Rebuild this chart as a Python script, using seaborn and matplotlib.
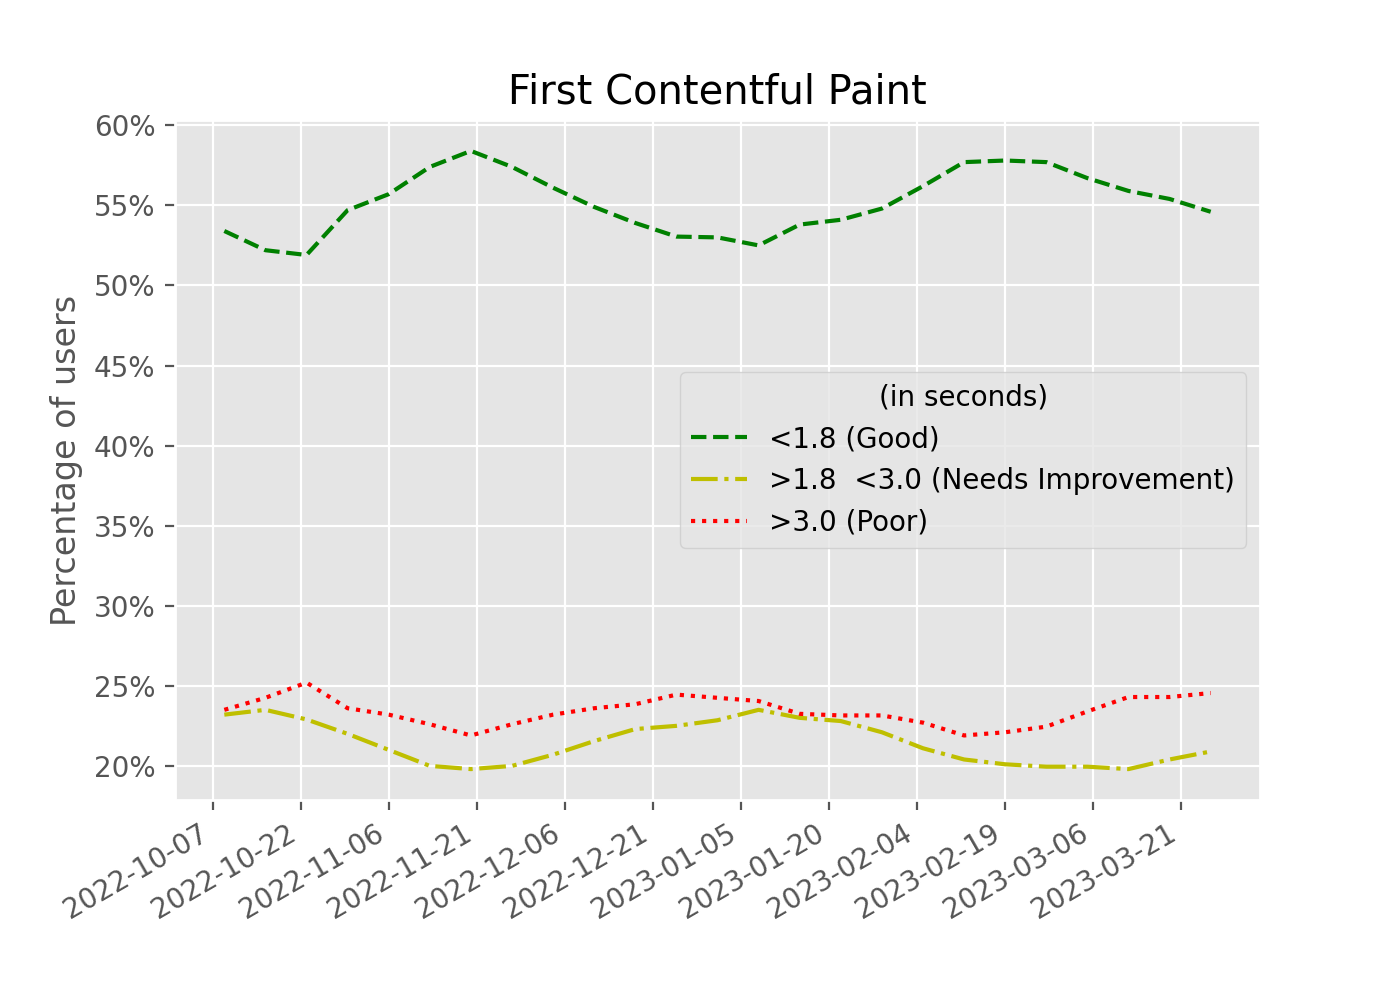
import pandas as pd
import seaborn as sns
import matplotlib.pyplot as plt
import matplotlib.dates as mdates
from matplotlib.ticker import PercentFormatter

# weekly data points
dates = ['2022-10-09', '2022-10-16', '2022-10-23', '2022-10-30', '2022-11-06',
         '2022-11-13', '2022-11-20', '2022-11-27', '2022-12-04', '2022-12-11',
         '2022-12-18', '2022-12-25', '2023-01-01', '2023-01-08', '2023-01-15',
         '2023-01-22', '2023-01-29', '2023-02-05', '2023-02-12', '2023-02-19',
         '2023-02-26', '2023-03-05', '2023-03-12', '2023-03-19', '2023-03-26']

good = [53.4, 52.2, 51.9, 54.7, 55.7, 57.4, 58.4, 57.4, 56.1, 54.9,
        53.9, 53.05, 53.0, 52.5, 53.8, 54.1, 54.8, 56.2, 57.7, 57.8,
        57.7, 56.7, 55.9, 55.4, 54.6]
needs_improvement = [23.2, 23.5, 22.9, 22.0, 21.0, 20.0, 19.8, 20.0, 20.7, 21.55,
                     22.3, 22.5, 22.85, 23.5, 23.0, 22.8, 22.1, 21.1, 20.4, 20.1,
                     19.95, 19.95, 19.8, 20.4, 20.9]
poor = [23.5, 24.25, 25.2, 23.6, 23.2, 22.6, 21.9, 22.6, 23.2, 23.6,
        23.85, 24.45, 24.25, 24.05, 23.25, 23.15, 23.15, 22.7, 21.9, 22.1,
        22.45, 23.4, 24.3, 24.3, 24.55]

tick_dates = ['2022-10-07', '2022-10-22', '2022-11-06', '2022-11-21', '2022-12-06',
              '2022-12-21', '2023-01-05', '2023-01-20', '2023-02-04', '2023-02-19',
              '2023-03-06', '2023-03-21']

df = pd.DataFrame({
    'date': pd.to_datetime(dates),
    'good': good,
    'needs': needs_improvement,
    'poor': poor,
})

plt.style.use('ggplot')
fig, ax = plt.subplots(figsize=(7, 5), dpi=200)

sns.lineplot(data=df, x='date', y='good', ax=ax, color='g', linestyle='--',
             label='<1.8 (Good)')
sns.lineplot(data=df, x='date', y='needs', ax=ax, color='y', linestyle='-.',
             label='>1.8  <3.0 (Needs Improvement)')
sns.lineplot(data=df, x='date', y='poor', ax=ax, color='r', linestyle=':',
             label='>3.0 (Poor)')

ax.set_xticks(pd.to_datetime(tick_dates))
ax.xaxis.set_major_formatter(mdates.DateFormatter('%Y-%m-%d'))
ax.yaxis.set_major_formatter(PercentFormatter(xmax=100, decimals=0))

ax.set_title('First Contentful Paint')
ax.set_xlabel('')
ax.set_ylabel('Percentage of users')
ax.legend(title='(in seconds)', loc='center right')
fig.autofmt_xdate()

plt.savefig('out.png')
